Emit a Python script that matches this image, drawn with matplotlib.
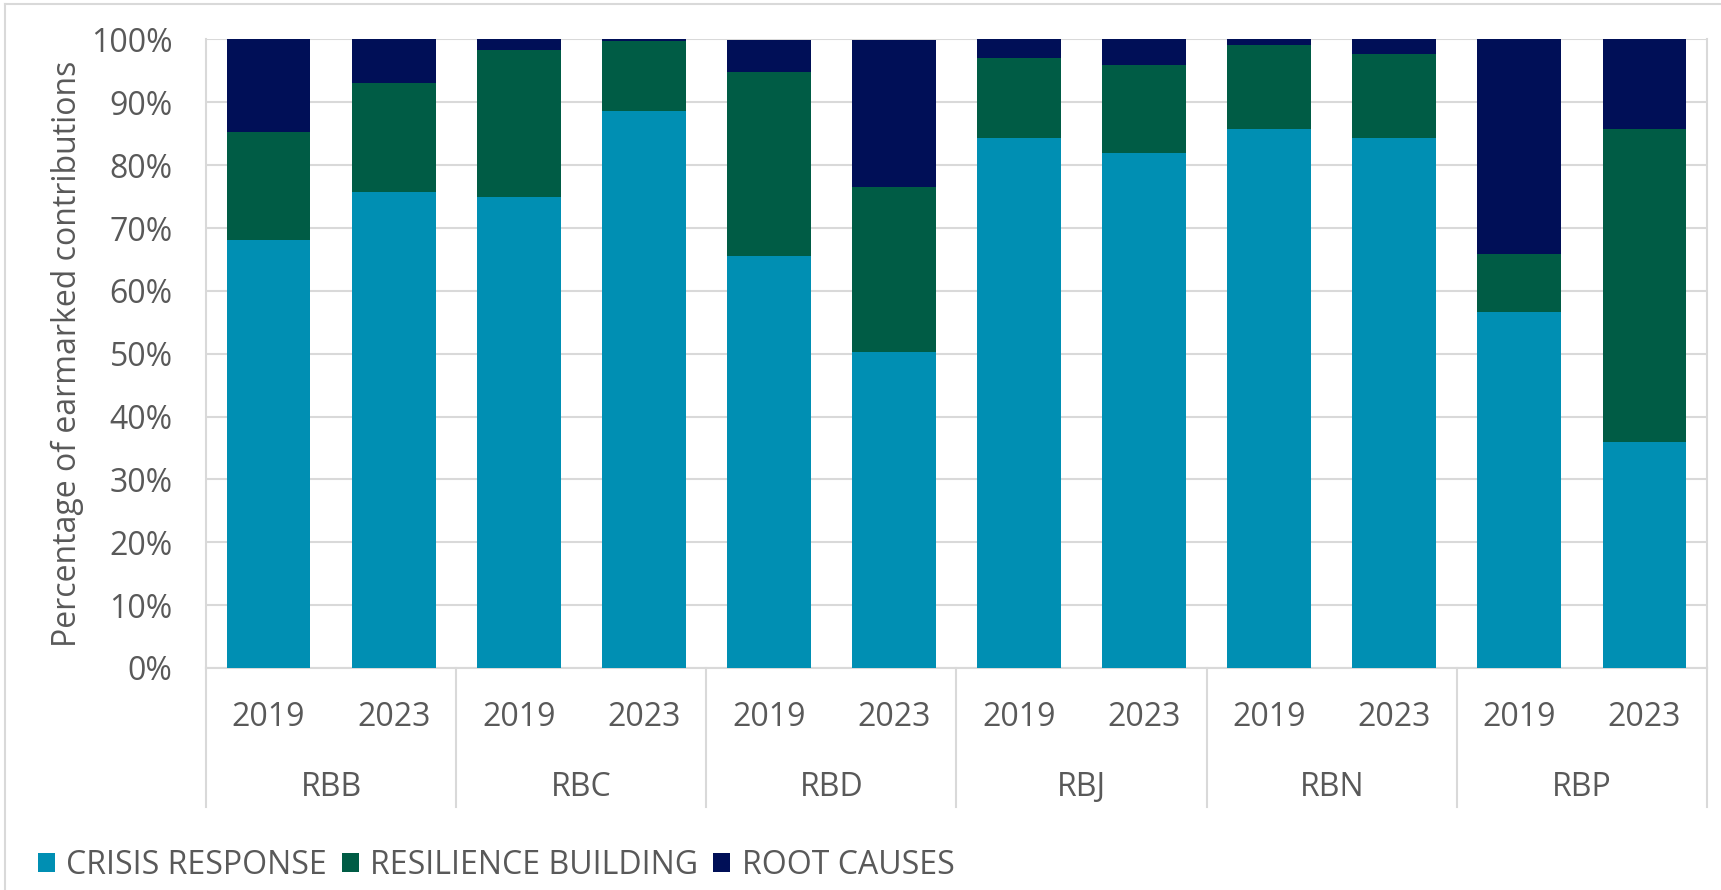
import matplotlib
matplotlib.use("Agg")
import matplotlib.pyplot as plt
from matplotlib.patches import Patch
from matplotlib.lines import Line2D
import matplotlib.transforms as mtransforms
import numpy as np

plt.rcParams['font.family'] = ['Open Sans', 'DejaVu Sans']

groups = ["RBB", "RBC", "RBD", "RBJ", "RBN", "RBP"]
years = ["2019", "2023"]
series_names = ["CRISIS RESPONSE", "RESILIENCE BUILDING", "ROOT CAUSES"]
crisis = [68.1, 75.7, 75.0, 88.7, 65.6, 50.3, 84.3, 82.0, 85.7, 84.3, 56.7, 36.0]
resilience = [17.2, 17.3, 23.4, 11.1, 29.3, 26.3, 12.7, 14.0, 13.4, 13.4, 9.1, 49.7]
root = [14.7, 7.0, 1.6, 0.2, 5.1, 23.4, 3.0, 4.0, 0.9, 2.3, 34.2, 14.3]

colors = ["#008FB3", "#005C45", "#000F57"]
text_color = "#595959"
grid_color = "#D9D9D9"

fig = plt.figure(figsize=(17.21, 8.90), dpi=100)
ax = fig.add_axes([206/1721, 1-668/890, (1707-206)/1721, (668-39.5)/890])

n = len(crisis)
x = np.arange(n)
w = 0.67
bottom = np.zeros(n)
for vals, c in zip([crisis, resilience, root], colors):
    ax.bar(x, vals, width=w, bottom=bottom, color=c, edgecolor='none', zorder=3)
    bottom += np.array(vals)

ax.set_xlim(-0.5, n - 0.5)
ax.set_ylim(0, 100)
ax.set_yticks(np.arange(0, 101, 10))
ax.set_yticklabels([f"{v}%" for v in range(0, 101, 10)])
ax.yaxis.grid(True, color=grid_color, linewidth=1.5, zorder=0)
ax.tick_params(axis='y', length=0, pad=24, labelsize=23, labelcolor=text_color)
ax.set_xticks([])
for s in ['top']:
    ax.spines[s].set_visible(False)
for s in ['left', 'right', 'bottom']:
    ax.spines[s].set_color(grid_color)
    ax.spines[s].set_linewidth(1.5)

ax.set_ylabel("Percentage of earmarked contributions", fontsize=23, color=text_color, labelpad=5)

trans = mtransforms.blended_transform_factory(ax.transData, ax.transAxes)
for i in range(n):
    ax.text(x[i], -0.078, years[i % 2], transform=trans, ha='center', va='center',
            fontsize=23, color=text_color)
for g, name in enumerate(groups):
    ax.text(2 * g + 0.5, -0.19, name, transform=trans, ha='center', va='center',
            fontsize=23, color=text_color)
for b in range(len(groups) + 1):
    ax.add_line(Line2D([2 * b - 0.5, 2 * b - 0.5], [0, -0.221], transform=trans,
                       color=grid_color, linewidth=1.5, clip_on=False))

handles = [Patch(facecolor=c, edgecolor='none') for c in colors]
fig.legend(handles, series_names, loc='center left', bbox_to_anchor=(9/1721, 1-865/890),
           ncol=3, frameon=False, fontsize=23, labelcolor=text_color,
           handlelength=0.55, handleheight=0.55, handletextpad=0.35, columnspacing=0.45)

# outer frame
fig.add_artist(Line2D([5/1721, 5/1721], [0, 1-4/890], transform=fig.transFigure, color=grid_color, linewidth=1.5))
fig.add_artist(Line2D([5/1721, 1], [1-4/890, 1-4/890], transform=fig.transFigure, color=grid_color, linewidth=1.5))

fig.savefig("out.png", dpi=100)
